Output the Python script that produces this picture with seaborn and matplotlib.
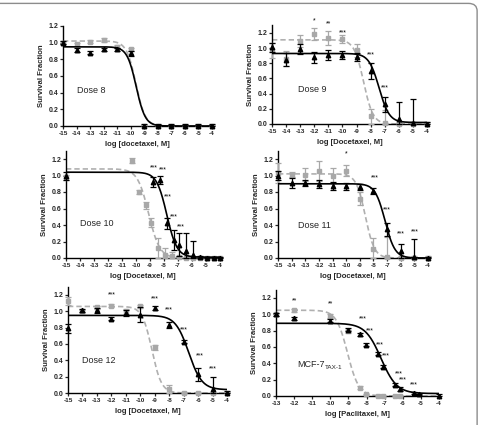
import numpy as np
import pandas as pd
import matplotlib
matplotlib.use("Agg")
import matplotlib.pyplot as plt
from matplotlib.patches import FancyBboxPatch
import seaborn as sns

# ------------------------------------------------------------------ data
steps = [-15, -14, -13, -12, -11, -10, -9, -8, -7, -6, -5, -4]

# Dose 8
d8_xb = steps
d8_yb = [1.00, 0.91, 0.88, 0.92, 0.92, 0.87, 0.0, 0.0, 0.0, 0.0, 0.0, 0.0]
d8_eb = [0.02, 0.02, 0.02, 0.02, 0.02, 0.03, 0.02, 0.02, 0.02, 0.02, 0.02, 0.02]
d8_xg = steps
d8_yg = [1.00, 0.98, 1.01, 1.03, 0.95, 0.92, 0.0, 0.0, 0.0, 0.0, 0.0, 0.0]
d8_eg = [0.02, 0.02, 0.02, 0.02, 0.02, 0.02, 0.01, 0.01, 0.01, 0.01, 0.01, 0.01]
d8_fit_black = [0.95, 0.0, -9.6, -1.3]   # top, bottom, logEC50, hill
d8_fit_gray = [1.02, 0.0, -9.62, -1.25]
d8_stars = []

# Dose 9
d9_xb = steps
d9_yb = [1.01, 0.85, 0.99, 0.88, 0.91, 0.91, 0.88, 0.70, 0.26, 0.07, 0.01, 0.0]
d9_eb = [0.06, 0.08, 0.07, 0.07, 0.07, 0.05, 0.05, 0.11, 0.10, 0.22, 0.32, 0.02]
d9_xg = steps
d9_yg = [0.97, 0.86, 1.10, 1.19, 1.13, 1.12, 0.97, 0.10, 0.01, 0.0, 0.0, 0.0]
d9_eg = [0.10, 0.10, 0.08, 0.08, 0.09, 0.05, 0.09, 0.10, 0.17, 0.02, 0.02, 0.02]
d9_fit_black = [0.93, 0.02, -7.4, -1.2]
d9_fit_gray = [1.11, 0.0, -8.5, -1.3]
d9_stars = [("*", -12, 1.36), ("**", -11, 1.32), ("***", -10, 1.20),
            ("***", -8, 0.91), ("***", -7, 0.47)]

# Dose 10
d10_xb = [-15, -8.8, -8.3, -7.8, -7.3, -6.9, -6.4, -5.9, -5.4, -4.9, -4.45, -4.0]
d10_yb = [0.99, 0.92, 0.95, 0.42, 0.22, 0.16, 0.08, 0.04, 0.01, 0.0, 0.0, 0.0]
d10_eb = [0.05, 0.06, 0.05, 0.07, 0.12, 0.14, 0.22, 0.17, 0.01, 0.01, 0.01, 0.01]
d10_xg = [-15, -10.3, -9.8, -9.3, -8.9, -8.4, -7.9, -7.4, -6.9, -6.4, -5.9, -5.4, -4.9, -4.45, -4.0]
d10_yg = [0.98, 1.18, 0.80, 0.64, 0.43, 0.12, 0.04, 0.02, 0.01, 0.0, 0.0, 0.0, 0.0, 0.0, 0.0]
d10_eg = [0.03, 0.03, 0.03, 0.04, 0.06, 0.12, 0.08, 0.05, 0.02, 0.01, 0.01, 0.01, 0.01, 0.01, 0.01]
d10_fit_black = [1.04, 0.01, -7.8, -1.2]
d10_fit_gray = [1.08, 0.0, -9.1, -1.1]
d10_stars = [("***", -8.7, 1.09), ("***", -8.1, 1.07), ("***", -7.7, 0.74),
             ("***", -7.3, 0.50), ("***", -6.8, 0.38)]

# Dose 11
d11_xb = steps
d11_yb = [1.00, 0.91, 0.91, 0.90, 0.87, 0.87, 0.86, 0.81, 0.35, 0.08, 0.01, 0.0]
d11_eb = [0.05, 0.06, 0.04, 0.05, 0.05, 0.04, 0.04, 0.04, 0.08, 0.09, 0.22, 0.01]
d11_xg = steps
d11_yg = [1.03, 1.01, 1.01, 1.05, 1.00, 1.06, 0.72, 0.11, 0.01, 0.0, 0.0, 0.0]
d11_eg = [0.12, 0.03, 0.08, 0.12, 0.09, 0.07, 0.08, 0.13, 0.25, 0.02, 0.02, 0.02]
d11_fit_black = [0.90, 0.0, -7.15, -1.2]
d11_fit_gray = [1.02, 0.0, -8.6, -1.3]
d11_stars = [("*", -10, 1.26), ("***", -7.9, 0.97), ("***", -7.0, 0.58),
             ("***", -6.0, 0.29), ("***", -5.0, 0.32)]

# Dose 12
d12_xb = steps
d12_yb = [0.79, 1.01, 1.01, 0.91, 0.98, 0.96, 1.04, 0.83, 0.63, 0.23, 0.05, 0.0]
d12_eb = [0.05, 0.02, 0.03, 0.02, 0.04, 0.09, 0.03, 0.04, 0.02, 0.08, 0.15, 0.02]
d12_xg = steps
d12_yg = [1.13, 1.00, 1.05, 1.07, 1.00, 1.06, 0.56, 0.05, 0.0, 0.0, 0.0, 0.0]
d12_eg = [0.05, 0.02, 0.02, 0.02, 0.03, 0.02, 0.03, 0.05, 0.01, 0.01, 0.01, 0.01]
d12_fit_black = [0.95, 0.04, -6.65, -0.95]
d12_fit_gray = [1.06, 0.0, -9.2, -1.3]
d12_stars = [("***", -12, 1.20), ("***", -9, 1.15), ("***", -8, 1.02),
             ("***", -7, 0.77), ("***", -5.9, 0.45), ("***", -5.0, 0.30)]

# MCF-7 TAX-1 (paclitaxel)
tax_xb = [-13, -12, -10, -9, -8.35, -8.03, -7.37, -7.1, -6.41, -6.17, -5.4, -5.1, -4.0]
tax_yb = [1.00, 0.95, 0.92, 0.81, 0.755, 0.63, 0.52, 0.36, 0.14, 0.086, 0.033, 0.02, 0.0]
tax_eb = [0.02, 0.02, 0.02, 0.02, 0.02, 0.02, 0.02, 0.02, 0.02, 0.02, 0.01, 0.01, 0.03]
tax_xg = [-13, -12, -10, -9, -8.35, -8.03, -7.37, -7.1, -6.41, -6.17]
tax_yg = [1.00, 1.05, 0.98, 0.79, 0.10, 0.02, 0.0, 0.0, 0.0, 0.0]
tax_eg = [0.02, 0.02, 0.02, 0.02, 0.02, 0.01, 0.01, 0.01, 0.01, 0.01]
tax_fit_black = [0.89, 0.03, -7.2, -1.0]
tax_fit_gray = [1.05, 0.0, -9.05, -1.4]
tax_stars = [("**", -11.95, 1.16), ("**", -9.98, 1.13), ("***", -8.18, 0.95),
             ("***", -7.81, 0.80), ("***", -7.26, 0.63), ("***", -6.93, 0.49),
             ("***", -6.21, 0.27), ("***", -5.97, 0.195), ("***", -5.38, 0.14)]

panel_labels = ["Dose 8", "Dose 9", "Dose 10", "Dose 11", "Dose 12", "MCF-7"]
panel_subscripts = ["", "", "", "", "", "TAX-1"]
x_labels = ["log [docetaxel, M]", "log [Docetaxel, M]", "log [Docetaxel, M]",
            "log [Docetaxel, M]", "log [Docetaxel, M]", "log [Paclitaxel, M]"]
y_label = "Survival Fraction"

# ------------------------------------------------------------------ style
sns.set_theme(style="ticks")
plt.rcParams["font.family"] = ["Liberation Sans", "DejaVu Sans"]

W, H = 480, 425
fig = plt.figure(figsize=(W / 100, H / 100), dpi=100)

GRAY = "#a8a8a8"
GRAY_LINE = "#b0b0b0"


def rect(L, R, T, B):
    return [L / W, 1 - B / H, (R - L) / W, (B - T) / H]


def logistic(x, p):
    top, bottom, logec50, hill = p
    return bottom + (top - bottom) / (1 + 10 ** ((logec50 - x) * hill))


panels = [
    dict(r=(63, 212, 26, 126), ytop=1.2, xlim=(-15, -4),
         xb=d8_xb, yb=d8_yb, eb=d8_eb, xg=d8_xg, yg=d8_yg, eg=d8_eg,
         fb=d8_fit_black, fg=d8_fit_gray, stars=d8_stars, txt=(-13.97, 0.42)),
    dict(r=(272, 427, 25.4, 124), ytop=1.3, xlim=(-15, -4),
         xb=d9_xb, yb=d9_yb, eb=d9_eb, xg=d9_xg, yg=d9_yg, eg=d9_eg,
         fb=d9_fit_black, fg=d9_fit_gray, stars=d9_stars, txt=(-13.13, 0.45)),
    dict(r=(66, 220, 150.75, 258), ytop=1.3, xlim=(-15, -4),
         xb=d10_xb, yb=d10_yb, eb=d10_eb, xg=d10_xg, yg=d10_yg, eg=d10_eg,
         fb=d10_fit_black, fg=d10_fit_gray, stars=d10_stars, txt=(-14.0, 0.42)),
    dict(r=(278, 428, 150.75, 258), ytop=1.3, xlim=(-15, -4),
         xb=d11_xb, yb=d11_yb, eb=d11_eb, xg=d11_xg, yg=d11_yg, eg=d11_eg,
         fb=d11_fit_black, fg=d11_fit_gray, stars=d11_stars, txt=(-13.5, 0.40)),
    dict(r=(68, 227, 286.8, 393), ytop=1.3, xlim=(-15, -4),
         xb=d12_xb, yb=d12_yb, eb=d12_eb, xg=d12_xg, yg=d12_yg, eg=d12_eg,
         fb=d12_fit_black, fg=d12_fit_gray, stars=d12_stars, txt=(-14.0, 0.40)),
    dict(r=(276, 439, 289.8, 396), ytop=1.3, xlim=(-13, -4),
         xb=tax_xb, yb=tax_yb, eb=tax_eb, xg=tax_xg, yg=tax_yg, eg=tax_eg,
         fb=tax_fit_black, fg=tax_fit_gray, stars=tax_stars, txt=(-11.84, 0.39)),
]

for i, p in enumerate(panels):
    ax = fig.add_axes(rect(*p["r"]))
    x0, x1 = p["xlim"]
    grid = np.linspace(x0, x1, 400)

    # fitted curves
    sns.lineplot(x=grid, y=logistic(grid, p["fg"]), ax=ax, color=GRAY_LINE,
                 lw=1.2, dashes=False, linestyle=(0, (3.2, 1.8)), zorder=2)
    sns.lineplot(x=grid, y=logistic(grid, p["fb"]), ax=ax, color="black",
                 lw=1.2, zorder=4)

    # data points with error bars (gray squares, black triangles)
    yg = np.array(p["yg"]); eg = np.array(p["eg"])
    ax.errorbar(p["xg"], yg, yerr=[np.minimum(eg, yg), eg], fmt="s",
                ms=3.0, color=GRAY, ecolor=GRAY, elinewidth=0.9, capsize=2.0,
                capthick=0.9, clip_on=False, zorder=3)
    yb = np.array(p["yb"]); eb = np.array(p["eb"])
    ax.errorbar(p["xb"], yb, yerr=[np.minimum(eb, yb), eb], fmt="^",
                ms=3.2, color="black", ecolor="black", elinewidth=0.9,
                capsize=2.0, capthick=0.9, clip_on=False, zorder=5)

    for s, sx, sy in p["stars"]:
        ax.text(sx, sy, s, fontsize=5, ha="center", va="center",
                color="black", clip_on=False)

    t = ax.text(p["txt"][0], p["txt"][1], panel_labels[i], fontsize=6.5,
                ha="left", va="center")
    if panel_subscripts[i]:
        ax.annotate(panel_subscripts[i], xy=(1, 0), xycoords=t,
                    xytext=(0.2, -0.8), textcoords="offset points",
                    fontsize=4.6, ha="left", va="bottom")

    ax.set_xlim(x0, x1)
    ax.set_ylim(0, p["ytop"])
    ax.set_xticks(np.arange(x0, x1 + 1, 1))
    ax.set_xticklabels([str(int(v)) for v in np.arange(x0, x1 + 1, 1)])
    ax.set_yticks([0.0, 0.2, 0.4, 0.6, 0.8, 1.0, 1.2])
    ax.set_yticklabels(["0.0", "0.2", "0.4", "0.6", "0.8", "1.0", "1.2"])
    ax.tick_params(axis="x", labelsize=4.6, length=2.2, width=0.9, pad=1.2)
    ax.tick_params(axis="y", labelsize=5.0, length=2.2, width=0.9, pad=1.0)
    for lab in ax.get_xticklabels() + ax.get_yticklabels():
        lab.set_fontweight("bold")
    for sp in ["top", "right"]:
        ax.spines[sp].set_visible(False)
    for sp in ["left", "bottom"]:
        ax.spines[sp].set_linewidth(1.0)
        ax.spines[sp].set_color("black")
    ax.set_xlabel(x_labels[i], fontsize=5.6, fontweight="bold", labelpad=3.5)
    ax.set_ylabel(y_label, fontsize=5.6, fontweight="bold", labelpad=3)
    ax.patch.set_alpha(0)

# outer frame (rounded corner at top-right)
frame = FancyBboxPatch((-0.05, -0.05), 0.994 + 0.05, 0.992 + 0.05,
                       boxstyle="round,pad=0,rounding_size=0.018",
                       transform=fig.transFigure, fill=False,
                       edgecolor="#8c8c8c", lw=1.0, clip_on=False)
fig.patches.append(frame)

fig.savefig("out.png", dpi=100)
